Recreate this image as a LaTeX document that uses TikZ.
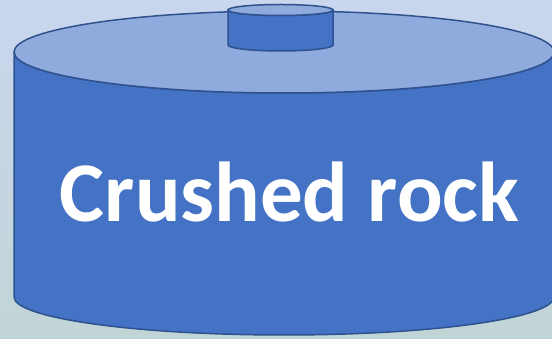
\documentclass[tikz,border=0pt]{standalone}
\usepackage{fontspec}
\setmainfont{Carlito}
\usepackage{xcolor}
\usepackage{tikz}
\usetikzlibrary{positioning, calc}

\definecolor{bgtop}{HTML}{C8D6EE}
\definecolor{bgbottom}{HTML}{C1D5D6}
\definecolor{tankblue}{HTML}{4472C4}
\definecolor{lidblue}{HTML}{8FAADC}
\definecolor{rimblue}{HTML}{2F528F}

\begin{document}
\begin{tikzpicture}[x=1pt, y=1pt,
    body/.style={fill=tankblue, draw=rimblue, line width=1.5pt, line join=round},
    lid/.style={fill=lidblue, draw=rimblue, line width=1.5pt}]
    \useasboundingbox (0,0) rectangle (552,339);
    \shade[top color=bgtop, bottom color=bgbottom] (0,0) rectangle (552,339);
    % big tank
    \draw[body] (14,287) -- (14,42) arc[start angle=180, end angle=360, x radius=270, y radius=38]
        -- (554,287) arc[start angle=0, end angle=-180, x radius=270, y radius=41] -- cycle;
    \draw[lid] (284,287) ellipse[x radius=270, y radius=41];
    % small cap on top
    \draw[body] (228,329) -- (228,294) arc[start angle=180, end angle=360, x radius=52.5, y radius=6]
        -- (333,329) arc[start angle=0, end angle=-180, x radius=52.5, y radius=5.5] -- cycle;
    \draw[lid] (280.5,329) ellipse[x radius=52.5, y radius=5.5];
    % label
    \node[anchor=base, text=white, font=\fontsize{85}{85}\selectfont\bfseries] (label) at (289.5,117) {Crushed rock};
\end{tikzpicture}
\end{document}
